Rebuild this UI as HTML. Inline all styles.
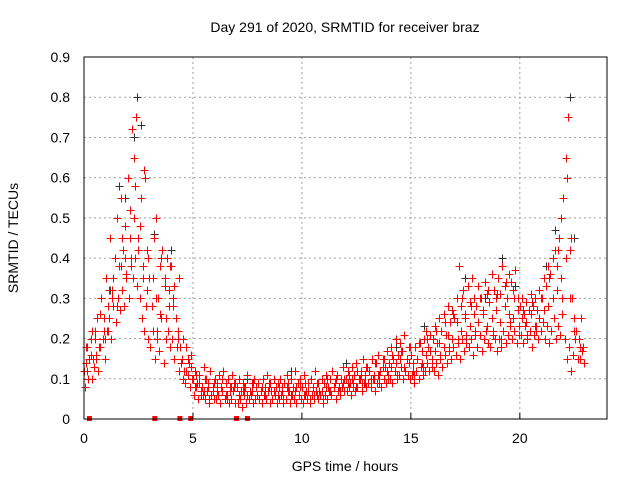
<!DOCTYPE html>
<html><head><meta charset="utf-8"><style>
body{margin:0;background:#fff;}
svg{display:block;font-family:"Liberation Sans",Arial,sans-serif;}
</style></head><body>
<svg id="chart" width="640" height="480" viewBox="0 0 640 480">
<text x="345" y="32" text-anchor="middle" font-size="14">Day 291 of 2020, SRMTID for receiver braz</text>
<text x="345" y="471" text-anchor="middle" font-size="14">GPS time / hours</text>
<text transform="translate(18,238) rotate(-90)" text-anchor="middle" font-size="14">SRMTID / TECUs</text>
<g id="grid"></g><g id="marks"></g><g id="axes"></g>
</svg>
<script>
const xTicks=[0,5,10,15,20];
const yTicks=[0,0.1,0.2,0.3,0.4,0.5,0.6,0.7,0.8,0.9];
const yTickLabels=["0","0.1","0.2","0.3","0.4","0.5","0.6","0.7","0.8","0.9"];
const redUpperStart=0, redUpperStep=0.1;
const redUpper=[0.12,0.18,0.10,0.20,0.15,0.22,0.25,0.18,0.30,0.22,
0.35,0.28,0.45,0.32,0.40,0.50,0.38,0.55,0.42,0.48,
0.60,0.52,0.72,0.65,0.75,0.45,0.55,0.38,0.60,0.42,
0.35,0.28,0.45,0.50,0.30,0.38,0.42,0.35,0.40,0.32,
0.38,0.30,0.25,0.20,0.18,0.15,0.12,0.18,0.14,0.16,
0.10,0.12,0.09,0.11,0.08,0.13,0.10,0.09,0.12,0.08,
0.10,0.09,0.11,0.08,0.12,0.09,0.10,0.08,0.11,0.09,
0.08,0.10,0.07,0.09,0.08,0.11,0.07,0.09,0.10,0.08,
0.09,0.07,0.10,0.08,0.11,0.09,0.07,0.10,0.08,0.09,
0.10,0.08,0.09,0.11,0.07,0.10,0.08,0.12,0.09,0.10,
0.08,0.11,0.07,0.09,0.10,0.08,0.12,0.09,0.07,0.10,
0.09,0.11,0.08,0.10,0.12,0.09,0.11,0.08,0.10,0.13,
0.10,0.12,0.09,0.13,0.11,0.14,0.10,0.12,0.15,0.11,
0.13,0.12,0.15,0.11,0.14,0.16,0.12,0.15,0.13,0.17,
0.14,0.18,0.15,0.20,0.16,0.19,0.17,0.21,0.15,0.18,
0.16,0.14,0.18,0.15,0.19,0.17,0.20,0.22,0.18,0.21,
0.20,0.23,0.19,0.25,0.22,0.26,0.21,0.28,0.24,0.27,
0.25,0.30,0.38,0.28,0.32,0.26,0.33,0.29,0.35,0.30,
0.28,0.33,0.30,0.27,0.34,0.31,0.29,0.36,0.32,0.30,
0.35,0.31,0.38,0.33,0.30,0.36,0.34,0.32,0.37,0.30,
0.28,0.30,0.26,0.29,0.27,0.31,0.28,0.30,0.27,0.32,
0.30,0.35,0.33,0.38,0.36,0.40,0.42,0.38,0.45,0.50,
0.55,0.65,0.75,0.42,0.30,0.25,0.22,0.20,0.25];
const redLowerStart=0.05, redLowerStep=0.1;
const redLower=[0.08,0.12,0.15,0.10,0.13,0.16,0.12,0.18,0.20,0.15,
0.22,0.25,0.20,0.28,0.24,0.30,0.27,0.32,0.28,0.35,
0.30,0.38,0.35,0.40,0.33,0.30,0.25,0.22,0.28,0.20,
0.18,0.22,0.15,0.20,0.17,0.25,0.14,0.20,0.22,0.18,
0.20,0.15,0.18,0.12,0.14,0.10,0.09,0.11,0.08,0.10,
0.06,0.08,0.05,0.07,0.06,0.05,0.07,0.04,0.06,0.05,
0.05,0.06,0.04,0.07,0.05,0.06,0.04,0.05,0.07,0.04,
0.04,0.05,0.03,0.06,0.04,0.05,0.06,0.04,0.05,0.06,
0.05,0.04,0.06,0.05,0.07,0.04,0.05,0.06,0.04,0.05,
0.06,0.04,0.05,0.07,0.04,0.06,0.05,0.04,0.06,0.05,
0.04,0.06,0.05,0.04,0.06,0.05,0.07,0.05,0.06,0.04,
0.06,0.05,0.07,0.06,0.08,0.05,0.07,0.06,0.08,0.07,
0.07,0.08,0.06,0.09,0.07,0.08,0.10,0.07,0.09,0.08,
0.09,0.08,0.10,0.07,0.09,0.11,0.08,0.10,0.09,0.11,
0.10,0.09,0.12,0.10,0.11,0.13,0.10,0.12,0.11,0.10,
0.11,0.09,0.12,0.10,0.13,0.11,0.12,0.14,0.12,0.13,
0.12,0.14,0.11,0.15,0.13,0.16,0.14,0.17,0.15,0.18,
0.16,0.19,0.15,0.20,0.17,0.21,0.18,0.20,0.16,0.22,
0.18,0.21,0.17,0.20,0.22,0.19,0.18,0.21,0.20,0.17,
0.20,0.18,0.22,0.19,0.21,0.24,0.20,0.22,0.19,0.23,
0.21,0.19,0.23,0.20,0.22,0.18,0.21,0.23,0.20,0.22,
0.24,0.20,0.23,0.19,0.22,0.25,0.20,0.23,0.21,0.26,
0.20,0.15,0.18,0.12,0.16,0.20,0.15,0.18,0.17];
const redMidStart=0.1, redMidStep=0.2;
const redMid=[0.14,0.16,0.20,0.18,0.25,0.22,0.30,0.28,0.38,0.40,
0.45,0.50,0.42,0.35,0.32,0.28,0.30,0.26,0.33,0.28,
0.28,0.22,0.15,0.12,0.13,0.08,0.09,0.07,0.08,0.07,
0.07,0.08,0.06,0.07,0.08,0.06,0.07,0.06,0.07,0.08,
0.07,0.06,0.08,0.07,0.06,0.07,0.08,0.06,0.07,0.08,
0.06,0.07,0.08,0.06,0.07,0.08,0.07,0.09,0.08,0.09,
0.09,0.10,0.08,0.11,0.09,0.12,0.10,0.11,0.13,0.12,
0.13,0.14,0.15,0.13,0.14,0.12,0.15,0.14,0.16,0.17,
0.17,0.19,0.18,0.21,0.20,0.24,0.22,0.25,0.23,0.26,
0.24,0.26,0.23,0.25,0.27,0.24,0.28,0.26,0.25,0.27,
0.25,0.24,0.26,0.23,0.25,0.27,0.28,0.30,0.32,0.35,
0.40,0.30,0.22,0.20,0.18];
const redExtraStart=0.15, redExtraStep=0.2;
const redExtra=[0.18,0.22,0.15,0.26,0.20,0.32,0.35,0.30,0.45,0.36,
0.40,0.58,0.48,0.62,0.40,0.35,0.22,0.40,0.25,0.38,
0.33,0.35,0.20,0.15,0.10,0.11,0.06,0.10,0.05,0.09,
0.06,0.10,0.05,0.08,0.09,0.05,0.08,0.05,0.09,0.06,
0.08,0.05,0.09,0.06,0.08,0.05,0.09,0.06,0.08,0.05,
0.09,0.05,0.06,0.09,0.05,0.10,0.06,0.10,0.07,0.10,
0.11,0.08,0.12,0.09,0.13,0.10,0.14,0.09,0.15,0.10,
0.16,0.11,0.17,0.12,0.18,0.11,0.19,0.13,0.20,0.15,
0.22,0.16,0.24,0.18,0.26,0.20,0.30,0.19,0.28,0.21,
0.30,0.20,0.32,0.22,0.31,0.20,0.34,0.23,0.30,0.21,
0.27,0.21,0.29,0.22,0.30,0.20,0.35,0.25,0.42,0.30,
0.60,0.45,0.20,0.15,0.14];
const blackTimes=[1.2,1.6,1.9,2.3,2.45,2.6,3.2,4.0,7.5,9.5,12.0,14.3,15.6,17.5,18.4,19.2,19.8,21.2,21.6,22.1,22.3,22.5];
const blackVals=[0.32,0.58,0.55,0.70,0.80,0.73,0.46,0.42,0.10,0.12,0.14,0.18,0.23,0.35,0.30,0.40,0.33,0.38,0.47,0.65,0.80,0.45];
const zeroTimes=[0.25,3.25,4.4,4.9,7.0,7.5];

const X0=84,X1=607,Y0=419,Y1=57,XMAX=24,YMAX=0.9;
const sx=v=>X0+(X1-X0)*v/XMAX;
const sy=v=>Y0-(Y0-Y1)*v/YMAX;
const NS="http://www.w3.org/2000/svg";
function mk(tag,attrs,parent){const e=document.createElementNS(NS,tag);for(const k in attrs)e.setAttribute(k,attrs[k]);parent.appendChild(e);return e;}
const grid=document.getElementById('grid'),marks=document.getElementById('marks'),axes=document.getElementById('axes');
xTicks.forEach((t,i)=>{
 if(t>0){const g=mk('line',{x1:sx(t),x2:sx(t),y1:Y0,y2:Y1,stroke:'#a0a0a0','stroke-dasharray':'2,3','stroke-width':1},grid);
 
 }
 const l=mk('text',{x:sx(t),y:443,'text-anchor':'middle','font-size':14},axes);l.textContent=t;
 
 
 const tk=mk('line',{x1:sx(t),x2:sx(t),y1:Y0,y2:Y0-6,stroke:'#000'},axes);
 
 
});
yTicks.forEach((t,i)=>{
 if(t>0&&t<YMAX){const g=mk('line',{x1:X0,x2:X1,y1:sy(t),y2:sy(t),stroke:'#a0a0a0','stroke-dasharray':'2,3','stroke-width':1},grid);
 
 }
 const l=mk('text',{x:X0-14,y:sy(t)+5,'text-anchor':'end','font-size':14},axes);l.textContent=yTickLabels[i];
 
 
});
const frame=mk('path',{d:`M${X0},${Y1}V${Y0}H${X1}V${Y1}Z`,fill:'none',stroke:'#000','stroke-width':1},axes);


function plus(t,v,color,name){
 const x=Math.round(sx(t))+0.5,y=Math.round(sy(v))+0.5;
 const p=mk('path',{d:`M${x-4},${y}H${x+4}M${x},${y-4}V${y+4}`,stroke:color,'stroke-width':1},marks);
 
 
}
blackVals.forEach((v,i)=>plus(blackTimes[i],v,'#333','black-point'));
redUpper.forEach((v,i)=>plus(redUpperStart+i*redUpperStep,v,'#f00','red-point'));
redLower.forEach((v,i)=>plus(redLowerStart+i*redLowerStep,v,'#f00','red-point'));
redMid.forEach((v,i)=>plus(redMidStart+i*redMidStep,v,'#f00','red-point'));
redExtra.forEach((v,i)=>plus(redExtraStart+i*redExtraStep,v,'#f00','red-point'));
zeroTimes.forEach(t=>{
 const r=mk('rect',{x:sx(t)-2.5,y:Y0-3,width:5,height:5,fill:'#f00'},marks);
 
 
});
</script>
</body></html>
